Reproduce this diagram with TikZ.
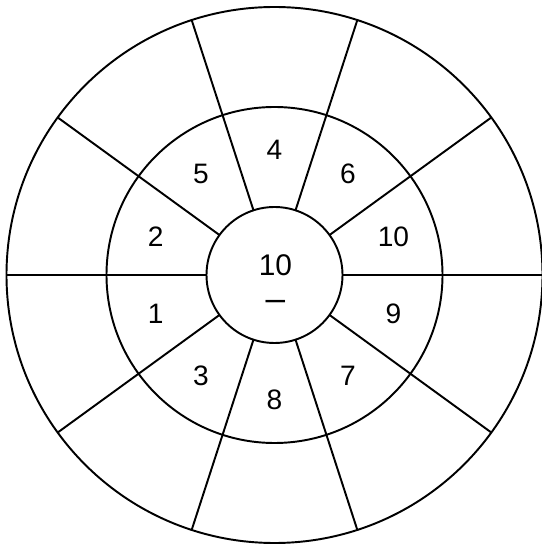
\documentclass[tikz,border=0pt]{standalone}
\usepackage{fontspec}
\setmainfont{Liberation Sans}
\usetikzlibrary{calc, positioning}

\begin{document}
\begin{tikzpicture}[
    ring/.style={draw=black, line width=1.1pt},
    spoke/.style={draw=black, line width=1.1pt},
    num/.style={font=\fontsize{16}{18}\selectfont, inner sep=0pt}
  ]
    \useasboundingbox (0,0) rectangle (10.82,10.94);
    \coordinate (c) at (5.49,5.44);
    % rings
    \draw[ring] (c) circle (5.36);
    \draw[ring] (c) circle (3.36);
    \draw[ring] (c) circle (1.36);
    % spokes every 36 degrees
    \foreach \a in {0,36,...,324}
      \draw[spoke] ($(c)+(\a:1.36)$) -- ($(c)+(\a:5.36)$);
    % numbers in the middle ring
    \foreach \a/\t in {18/10, 54/6, 90/4, 126/5, 162/2, 198/1, 234/3, 270/8, 306/7, 342/9}
      \node[num] (n\a) at ($(c)+(\a:2.5)$) {\t};
    % centre
    \node[num, font=\fontsize{17}{19}\selectfont] (mid) at ($(c)+(0.02,0.2)$) {10};
    \node[num, font=\fontsize{20}{22}\selectfont, below=0.8cm of mid.center, anchor=center] (dash) {\textendash};
\end{tikzpicture}
\end{document}
